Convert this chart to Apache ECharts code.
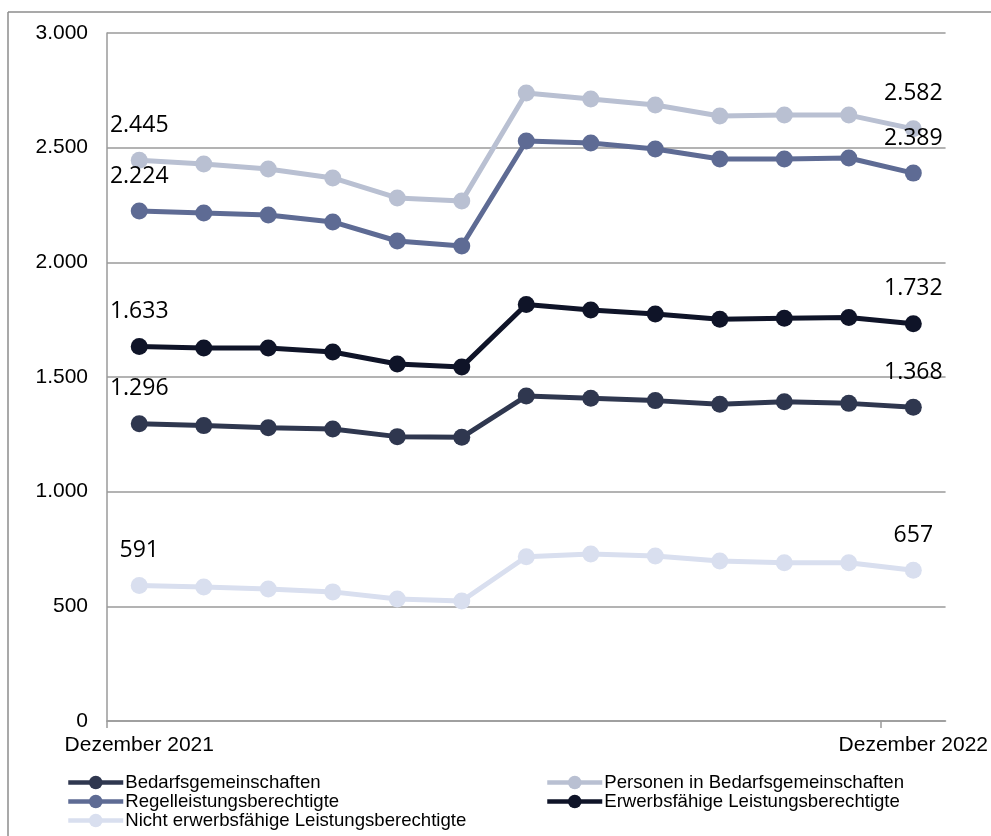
<!DOCTYPE html>
<html>
<head>
<meta charset="utf-8">
<title>SGB II – Bedarfsgemeinschaften und Leistungsberechtigte</title>
<script src="https://cdn.jsdelivr.net/npm/echarts@6/dist/echarts.min.js"></script>
<style>
  html, body { margin: 0; padding: 0; background: #ffffff; }
  #chart { width: 991px; height: 836px; }
</style>
</head>
<body>
<div id="chart"></div>
<script>
// Monthly categories, December 2021 to December 2022
const months = [
  'Dezember 2021', 'Januar 2022', 'Februar 2022', 'März 2022', 'April 2022',
  'Mai 2022', 'Juni 2022', 'Juli 2022', 'August 2022', 'September 2022',
  'Oktober 2022', 'November 2022', 'Dezember 2022'
];

// Series values
const bedarfsgemeinschaften = [1296, 1288, 1279, 1273, 1240, 1237, 1417, 1407, 1397, 1381, 1392, 1385, 1368];
const personenInBG = [2445, 2429, 2407, 2368, 2281, 2267, 2738, 2712, 2686, 2638, 2642, 2642, 2582];
const regelleistungsberechtigte = [2224, 2215, 2206, 2176, 2093, 2071, 2529, 2520, 2494, 2451, 2451, 2455, 2389];
const erwerbsfaehigeLB = [1633, 1626, 1626, 1609, 1557, 1544, 1816, 1792, 1775, 1752, 1756, 1759, 1732];
const nichtErwerbsfaehigeLB = [591, 584, 576, 563, 532, 523, 716, 728, 719, 698, 690, 690, 657];

// Value axis ticks
const yTicks = [0, 500, 1000, 1500, 2000, 2500, 3000];

const seriesDefs = [
  { name: 'Bedarfsgemeinschaften', data: bedarfsgemeinschaften, color: '#2F374F' },
  { name: 'Personen in Bedarfsgemeinschaften', data: personenInBG, color: '#B9C0D2' },
  { name: 'Regelleistungsberechtigte', data: regelleistungsberechtigte, color: '#5E6B94' },
  { name: 'Erwerbsfähige Leistungsberechtigte', data: erwerbsfaehigeLB, color: '#0F1428' },
  { name: 'Nicht erwerbsfähige Leistungsberechtigte', data: nichtErwerbsfaehigeLB, color: '#D9DFEF' }
];

// German thousands separator
function fmtDE(v) {
  return String(Math.round(v)).replace(/\B(?=(\d{3})+(?!\d))/g, '.');
}

const lastIdx = months.length - 1;
const gridColor = '#9a9a9a';
const axisFont = '"Liberation Sans", Arial, sans-serif';

const chart = echarts.init(document.getElementById('chart'), null, { renderer: 'canvas' });

const legendCommon = {
  orient: 'vertical',
  top: 773,
  itemWidth: 55,
  itemHeight: 17,
  itemGap: 0,
  padding: 0,
  selectedMode: false,
  lineStyle: { width: 4.5 },
  textStyle: { fontFamily: axisFont, fontSize: 18.6, lineHeight: 18.6, color: '#000000', padding: [0, 0, 0, -3] }
};

chart.setOption({
  animation: false,
  backgroundColor: '#ffffff',
  graphic: [
    { type: 'line', shape: { x1: 8, y1: 12, x2: 8, y2: 836 }, style: { stroke: '#8c8c8c', lineWidth: 1.5 }, silent: true },
    { type: 'line', shape: { x1: 8, y1: 12, x2: 991, y2: 12 }, style: { stroke: '#8c8c8c', lineWidth: 1.5 }, silent: true }
  ],
  grid: { left: 107, right: 45, top: 33, bottom: 115, containLabel: false },
  legend: [
    Object.assign({}, legendCommon, {
      left: 66,
      data: ['Bedarfsgemeinschaften', 'Regelleistungsberechtigte', 'Nicht erwerbsfähige Leistungsberechtigte']
    }),
    Object.assign({}, legendCommon, {
      left: 545,
      data: ['Personen in Bedarfsgemeinschaften', 'Erwerbsfähige Leistungsberechtigte']
    })
  ],
  xAxis: [
    {
      type: 'category',
      data: months,
      boundaryGap: true,
      axisLine: { show: true, lineStyle: { color: gridColor, width: 1.5 } },
      axisTick: { show: false },
      axisLabel: {
        interval: function (i) { return i === 0 || i === lastIdx; },
        margin: 14,
        fontFamily: axisFont,
        fontSize: 21,
        color: '#000000',
        hideOverlap: false
      },
      splitLine: { show: false }
    },
    {
      // helper axis carrying only the two band-boundary tick marks
      type: 'value',
      position: 'bottom',
      min: 0,
      max: months.length,
      axisLine: { show: false },
      axisLabel: { show: false },
      splitLine: { show: false },
      axisTick: {
        show: true,
        length: 7,
        customValues: [0, lastIdx],
        lineStyle: { color: gridColor, width: 1.5 }
      }
    }
  ],
  yAxis: {
    type: 'value',
    min: yTicks[0],
    max: yTicks[yTicks.length - 1],
    interval: yTicks[1] - yTicks[0],
    axisLine: { show: true, lineStyle: { color: gridColor, width: 1.5 } },
    axisTick: { show: false },
    axisLabel: {
      margin: 19,
      fontFamily: axisFont,
      fontSize: 21,
      color: '#000000',
      formatter: fmtDE
    },
    splitLine: { show: true, lineStyle: { color: gridColor, width: 1.5 } }
  },
  series: seriesDefs.map(function (s) {
    return {
      name: s.name,
      type: 'line',
      xAxisIndex: 0,
      data: s.data,
      symbol: 'circle',
      symbolSize: 17,
      showSymbol: true,
      color: s.color,
      lineStyle: { width: 5, color: s.color },
      itemStyle: { color: s.color },
      emphasis: { disabled: true },
      label: {
        show: true,
        position: 'top',
        distance: 15,
        fontFamily: '"Open Sans", "Noto Sans", sans-serif',
        fontSize: 23,
        color: '#000000',
        formatter: function (p) {
          return (p.dataIndex === 0 || p.dataIndex === lastIdx) ? fmtDE(p.value) : '';
        }
      },
      labelLayout: { hideOverlap: false }
    };
  })
});
</script>
</body>
</html>
